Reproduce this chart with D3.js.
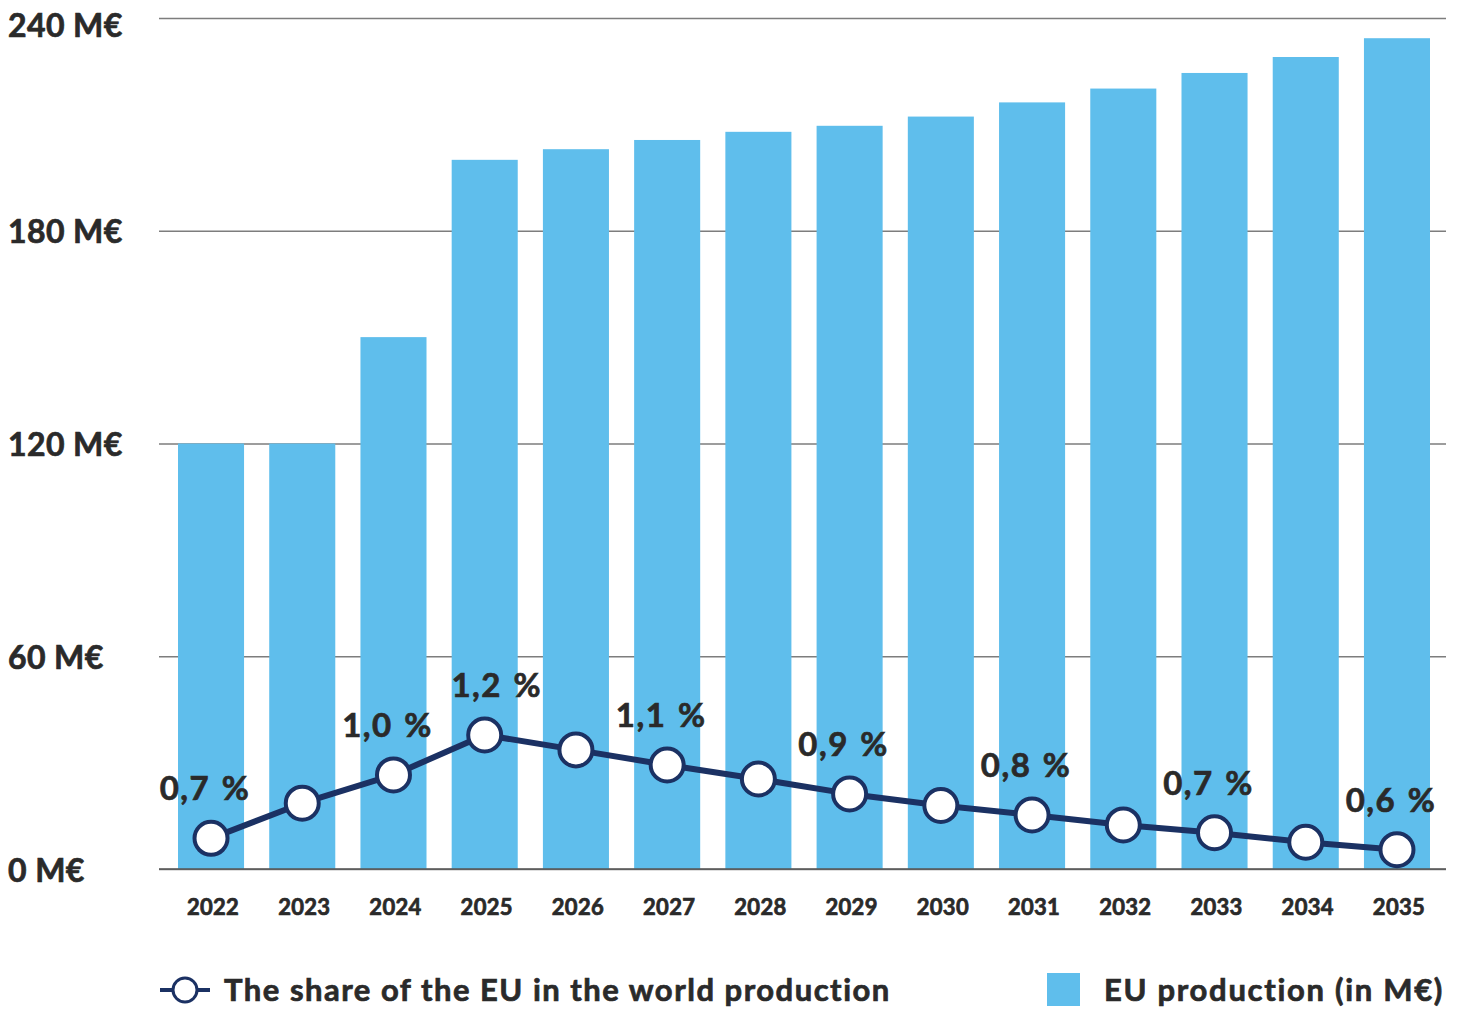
<!DOCTYPE html>
<html>
<head>
<meta charset="utf-8">
<script src="https://cdn.jsdelivr.net/npm/d3@7"></script>
<style>
  html, body { margin: 0; padding: 0; background: #ffffff; }
  svg { display: block; }
  text { font-family: Lato, "Open Sans", sans-serif; font-weight: 700; fill: #2a2a2a;
         stroke: #2a2a2a; stroke-width: 0.7px; }
</style>
</head>
<body>
<svg id="chart" width="1461" height="1009"></svg>
<script>
// Years on the horizontal axis
const years = ["2022", "2023", "2024", "2025", "2026", "2027", "2028",
               "2029", "2030", "2031", "2032", "2033", "2034", "2035"];

// EU production, in millions of euros
const production = [120, 120, 150, 200, 203, 205.6, 207.9,
                    209.6, 212.2, 216.2, 220.1, 224.5, 229, 234.3];

// Share of the EU in world production, in percent
const share = [0.70, 0.87, 1.007, 1.20, 1.128, 1.055, 0.987,
               0.915, 0.859, 0.813, 0.765, 0.727, 0.681, 0.645];

// Years whose share is written next to the marker
const labelledYears = ["2022", "2024", "2025", "2027", "2029", "2031", "2033", "2035"];

// Value axis ticks
const yTicks = [0, 60, 120, 180, 240];

const legendLine = "The share of the EU in the world production";
const legendBars = "EU production (in M€)";

const COLORS = { bar: "#5fbeec", line: "#1b3163", grid: "#7d7d7d", base: "#555555" };

const svg = d3.select("#chart");
const plot = { left: 159, right: 1446, top: 18, bottom: 869 };

const x = d3.scaleBand()
  .domain(years)
  .range([178, 1430])
  .paddingInner(0.276)
  .paddingOuter(0);

const y = d3.scaleLinear()
  .domain([0, 240])
  .range([plot.bottom, plot.top]);

// secondary scale for the share line (no axis drawn)
const yShare = d3.scaleLinear()
  .domain([0.6, 1.2])
  .range([859, 735]);

const fmtShare = v => d3.format(".1f")(v).replace(".", ",") + " %";

// Gridlines and value labels
const yAxis = svg.append("g")
  .attr("transform", `translate(${plot.left},0)`)
  .call(d3.axisLeft(y)
    .tickValues(yTicks)
    .tickSize(-(plot.right - plot.left))
    .tickFormat(d => d + " M€"));
yAxis.select(".domain").remove();
yAxis.selectAll(".tick line")
  .attr("stroke", COLORS.grid)
  .attr("stroke-width", 1.6);
yAxis.selectAll(".tick text")
  .attr("x", 8 - plot.left)
  .attr("text-anchor", "start")
  .attr("dy", null)
  .attr("y", d => Math.max(12, 18 - y(d) + 18))
  .style("font-size", "32px")
  .style("font-family", "Lato, sans-serif")
  .style("font-weight", 700)
  .style("letter-spacing", "0.4px")
  .attr("fill", "#2a2a2a");

// Bars
const rows = years.map((yr, i) => ({ year: yr, value: production[i], share: share[i] }));

svg.append("g")
  .selectAll("rect")
  .data(rows)
  .join("rect")
  .attr("x", d => x(d.year))
  .attr("width", x.bandwidth())
  .attr("y", d => y(d.value))
  .attr("height", d => y(0) - y(d.value))
  .attr("fill", COLORS.bar);

// Baseline
svg.append("line")
  .attr("x1", plot.left).attr("x2", plot.right)
  .attr("y1", y(0)).attr("y2", y(0))
  .attr("stroke", COLORS.base)
  .attr("stroke-width", 1.6);

// Year labels
const xAxis = svg.append("g")
  .attr("transform", `translate(0,${plot.bottom})`)
  .call(d3.axisBottom(x).tickSize(0));
xAxis.select(".domain").remove();
xAxis.selectAll(".tick text")
  .attr("y", 46)
  .attr("dy", null)
  .attr("dx", 2)
  .style("font-size", "22px")
  .style("font-family", "Lato, sans-serif")
  .style("font-weight", 700)
  .style("letter-spacing", "0.3px")
  .attr("fill", "#2a2a2a");

// Share line with markers
const cx = d => x(d.year) + x.bandwidth() / 2;

svg.append("path")
  .datum(rows)
  .attr("fill", "none")
  .attr("stroke", COLORS.line)
  .attr("stroke-width", 6)
  .attr("stroke-linejoin", "round")
  .attr("d", d3.line().x(cx).y(d => yShare(d.share)));

svg.append("g")
  .selectAll("circle")
  .data(rows)
  .join("circle")
  .attr("cx", cx)
  .attr("cy", d => yShare(d.share))
  .attr("r", 16.5)
  .attr("fill", "#ffffff")
  .attr("stroke", COLORS.line)
  .attr("stroke-width", 4);

// Share labels; the peak label sits to the right of the rising segment
const peak = d3.max(share);
svg.append("g")
  .selectAll("text")
  .data(rows.filter(d => labelledYears.includes(d.year)))
  .join("text")
  .attr("x", d => cx(d) + (d.share === peak ? 12 : -6))
  .attr("y", d => yShare(d.share) - 38)
  .attr("text-anchor", "middle")
  .style("font-size", "33px")
  .style("word-spacing", "2px")
  .style("letter-spacing", "1.5px")
  .text(d => fmtShare(d.share));

// Legend
const lg = svg.append("g");
lg.append("line")
  .attr("x1", 160).attr("x2", 210)
  .attr("y1", 990).attr("y2", 990)
  .attr("stroke", COLORS.line)
  .attr("stroke-width", 4);
lg.append("circle")
  .attr("cx", 185).attr("cy", 990).attr("r", 12)
  .attr("fill", "#ffffff")
  .attr("stroke", COLORS.line)
  .attr("stroke-width", 3);
lg.append("text")
  .attr("x", 224).attr("y", 1001)
  .style("font-size", "31px")
  .style("letter-spacing", "1.5px")
  .text(legendLine);

lg.append("rect")
  .attr("x", 1047).attr("y", 973)
  .attr("width", 33).attr("height", 33)
  .attr("fill", COLORS.bar);
lg.append("text")
  .attr("x", 1104).attr("y", 1001)
  .style("font-size", "31px")
  .style("letter-spacing", "1.7px")
  .text(legendBars);
</script>
</body>
</html>
